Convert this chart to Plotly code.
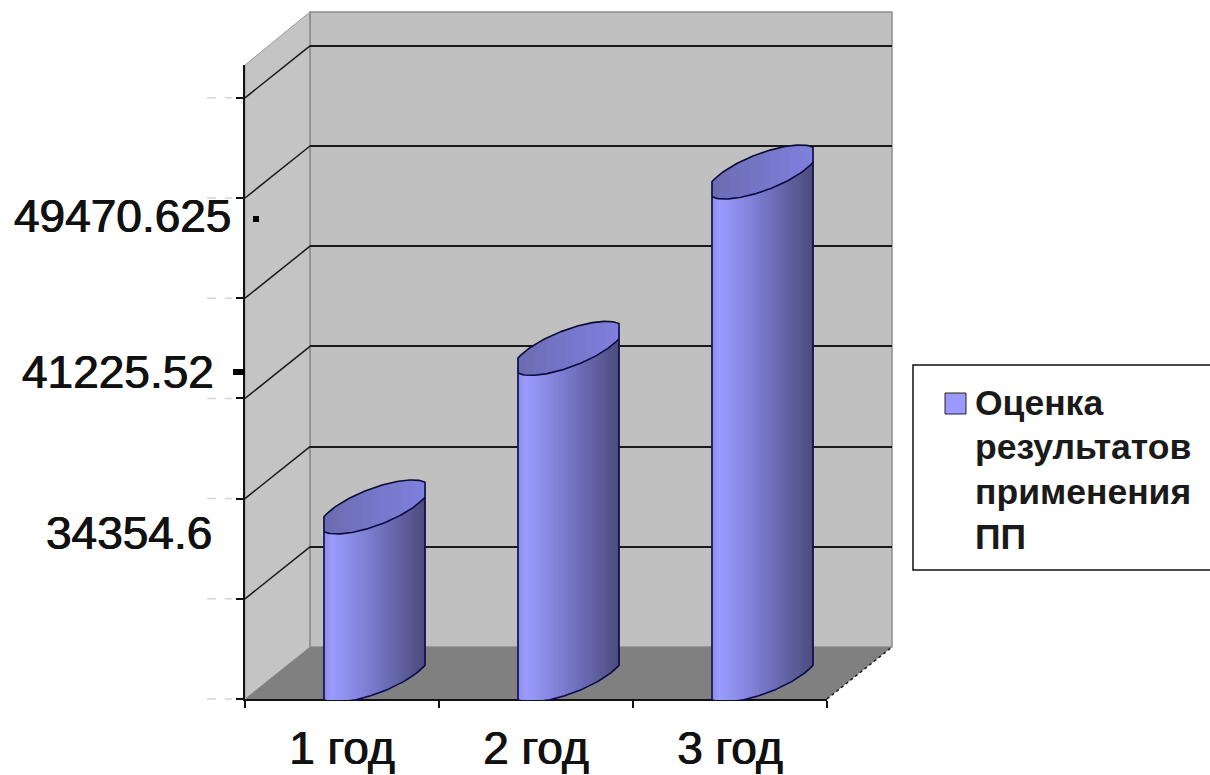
import numpy as np
import plotly.graph_objects as go

categories = ["1 год", "2 год", "3 год"]
bar_heights = [1.677, 3.26, 5.02]
value_labels = ["34354.6", "41225.52", "49470.625"]
label_positions = [1.66, 3.26, 4.82]
label_right_px = [214, 216, 233]
legend_lines = ["Оценка", "результатов", "применения", "ПП"]
legend_line_px = [403, 447, 492, 537]
axis_ticks = [0, 1, 2, 3, 4, 5, 6]

W, H = 1210, 775
PX_PER_UNIT = 100.2
CAT_PX = 194.0
FRONT = (245, 827, 65, 699)   # left, right, top, bottom
BACK = (310, 892, 12, 647)
MID_X = (277.5, 859.5)
MID_ZERO_PX = 675
MID_CLIP = (100, 700)
FONT = "Liberation Sans"
INK = "#111111"
HEAVY = "0.5px 0 0 #111111, -0.5px 0 0 #111111"


def X(p):
    return p / W


def Y(p):
    return 1 - p / H


def mix(stops, t):
    xs = [s[0] for s in stops]
    ch = [np.interp(t, xs, [s[1][i] for s in stops]) for i in range(3)]
    return "rgb(%d,%d,%d)" % tuple(int(round(c)) for c in ch)


BODY_STOPS = [(0, (140, 140, 235)), (0.08, (155, 155, 255)), (0.55, (116, 116, 195)), (1, (76, 76, 125))]
TOP_STOPS = [(0, (108, 108, 178)), (1, (128, 128, 222))]

half_w = 50.5 / CAT_PX
shear = 17.25 / PX_PER_UNIT
half_h = 19.5 / PX_PER_UNIT
squeeze = 0.923
n = 102
u = (np.arange(n) + 0.5) / n * 2 - 1
strip_w = 2 * half_w / n * 1.05
edge = np.linspace(-1, 1, 81)


def arc(v):
    return half_h * np.sqrt(1 - (v * squeeze) ** 2)


fig = go.Figure()

# hidden trace anchoring the front category axis
fig.add_trace(go.Scatter(x=categories, y=[0, 0, 0], xaxis="x", yaxis="y", mode="markers",
                         marker=dict(opacity=0), showlegend=False, hoverinfo="skip"))
# back-wall plane supplying the gridlines
fig.add_trace(go.Scatter(x=[0], y=[0], xaxis="x2", yaxis="y2", mode="markers",
                         marker=dict(opacity=0), showlegend=False, hoverinfo="skip"))

for i, h in enumerate(bar_heights):
    cx = i + u * half_w
    t = (u + 1) / 2
    low = shear * u - arc(u)
    body_top = h + shear * u
    fig.add_trace(go.Bar(x=cx, y=body_top - low, base=low, width=strip_w, xaxis="x3", yaxis="y3",
                         marker=dict(color=[mix(BODY_STOPS, v) for v in t], line=dict(width=0)),
                         showlegend=False, hoverinfo="skip"))
    top_low = h + shear * u - arc(u)
    top_high = h + shear * u + arc(u)
    fig.add_trace(go.Bar(x=cx, y=top_high - top_low, base=top_low, width=strip_w, xaxis="x3", yaxis="y3",
                         marker=dict(color=[mix(TOP_STOPS, v) for v in t], line=dict(width=0)),
                         showlegend=False, hoverinfo="skip"))
    # outline
    ex = i + edge * half_w
    outline_x = np.concatenate([ex, ex[::-1], [ex[0]]])
    outline_y = np.concatenate([h + shear * edge - arc(edge), (h + shear * edge + arc(edge))[::-1],
                                [h + shear * edge[0] - arc(edge[0])]])
    fig.add_trace(go.Scatter(x=outline_x, y=outline_y, xaxis="x3", yaxis="y3", mode="lines",
                             line=dict(color="#0A0A40", width=1.6), showlegend=False, hoverinfo="skip"))
    side_x = np.concatenate([[ex[0]], ex, [ex[-1]]])
    side_y = np.concatenate([[h - shear - arc(-1)], shear * edge - arc(edge), [h + shear - arc(1)]])
    fig.add_trace(go.Scatter(x=side_x, y=side_y, xaxis="x3", yaxis="y3", mode="lines",
                             line=dict(color="#0A0A40", width=1.6), showlegend=False, hoverinfo="skip"))

fl, fr, ft, fb = FRONT
bl, br, bt, bb = BACK
shapes = []


def poly(pts, fill, line=None, width=0):
    path = "M" + " L".join(f"{X(a):.5f},{Y(b):.5f}" for a, b in pts) + " Z"
    shapes.append(dict(type="path", xref="paper", yref="paper", path=path, fillcolor=fill, layer="below",
                       line=dict(color=line or fill, width=width)))


def seg(x0, y0, x1, y1, color, width, dash="solid", layer="below"):
    shapes.append(dict(type="line", xref="paper", yref="paper", x0=X(x0), y0=Y(y0), x1=X(x1), y1=Y(y1),
                       line=dict(color=color, width=width, dash=dash), layer=layer))


poly([(bl, bt), (br, bt), (br, bb), (bl, bb)], "#C0C0C0", "#8C8C8C", 1.5)
poly([(fl, ft), (bl, bt), (bl, bb), (fl, fb)], "#C4C4C4", "#9A9A9A", 1)
poly([(fl, fb), (fr, fb), (br, bb), (bl, bb)], "#808080")
seg(bl, bt, bl, bb, "#8C8C8C", 1.5)
seg(fr, fb, br, bb, "#1A1A1A", 1.5, "dot")

for v in axis_ticks[1:]:
    yf = fb - v * PX_PER_UNIT
    yb = bb - v * PX_PER_UNIT
    seg(fl, yf, bl, yb, "#1A1A1A", 1.5)
for v in axis_ticks:
    yf = fb - v * PX_PER_UNIT
    seg(207, yf, 232, yf, "#D4D4D4", 1.5, "dash")

# small hand-set marks beside the pasted labels
shapes.append(dict(type="rect", xref="paper", yref="paper", x0=X(253), x1=X(259), y0=Y(222), y1=Y(216),
                   fillcolor="#000000", line=dict(width=0)))
shapes.append(dict(type="rect", xref="paper", yref="paper", x0=X(233), x1=X(245), y0=Y(375), y1=Y(369),
                   fillcolor="#000000", line=dict(width=0)))
# legend box and swatch
shapes.append(dict(type="rect", xref="paper", yref="paper", x0=X(913), x1=X(1214), y0=Y(570), y1=Y(365),
                   fillcolor="#FFFFFF", line=dict(color="#111111", width=1.5)))
shapes.append(dict(type="rect", xref="paper", yref="paper", x0=X(945), x1=X(966), y0=Y(414), y1=Y(393),
                   fillcolor="#9999FF", line=dict(color="#222222", width=1)))

annotations = []
for text, pos, right in zip(value_labels, label_positions, label_right_px):
    annotations.append(dict(text=text, x=X(right), xref="paper", y=pos, yref="y", xanchor="right",
                            yanchor="middle", showarrow=False,
                            font=dict(family=FONT, size=46, color=INK, shadow=HEAVY)))
for text, line_px in zip(legend_lines, legend_line_px):
    annotations.append(dict(text=text, x=X(973), y=Y(line_px), xref="paper", yref="paper",
                            xanchor="left", yanchor="middle", align="left", showarrow=False,
                            font=dict(family=FONT, size=35.5, color="#1A1A1A", weight="bold")))

y_span = (fb - ft) / PX_PER_UNIT
fig.update_layout(
    width=W, height=H, margin=dict(l=0, r=0, t=0, b=0, pad=0, autoexpand=False), paper_bgcolor="#FFFFFF",
    plot_bgcolor="rgba(0,0,0,0)", barmode="overlay", showlegend=False, shapes=shapes, annotations=annotations,
    xaxis=dict(domain=[X(fl), X(fr)], type="category", categoryorder="array", categoryarray=categories,
               range=[-0.5, 2.5], tickson="boundaries", ticks="outside", ticklen=7, tickwidth=1.5, tickcolor="#111111",
               showline=True, linecolor="#111111", linewidth=1.5, showgrid=False, zeroline=False, automargin=False,
               ticklabelstandoff=8, tickfont=dict(family=FONT, size=46, color=INK, shadow=HEAVY)),
    yaxis=dict(domain=[Y(fb), Y(ft)], range=[0, y_span], tickvals=axis_ticks, showticklabels=False, ticks="outside",
               ticklen=7, tickwidth=1.5, tickcolor="#111111", showline=True, linecolor="#111111", linewidth=1.5,
               showgrid=False, zeroline=False, automargin=False),
    xaxis2=dict(domain=[X(bl), X(br)], range=[0, 1], anchor="y2", visible=False, showgrid=False, zeroline=False,
                automargin=False),
    yaxis2=dict(domain=[Y(bb), Y(bt)], range=[0, (bb - bt) / PX_PER_UNIT], anchor="x2", tickvals=axis_ticks,
                showticklabels=False, ticks="", showline=False, showgrid=True, gridcolor="#1A1A1A", gridwidth=2,
                zeroline=False, automargin=False),
    xaxis3=dict(domain=[X(MID_X[0]), X(MID_X[1])], range=[-0.5, 2.5], anchor="y3", visible=False, showgrid=False,
                zeroline=False, automargin=False),
    yaxis3=dict(domain=[Y(MID_CLIP[1]), Y(MID_CLIP[0])],
                range=[(MID_ZERO_PX - MID_CLIP[1]) / PX_PER_UNIT, (MID_ZERO_PX - MID_CLIP[0]) / PX_PER_UNIT],
                anchor="x3", visible=False, showgrid=False, zeroline=False, automargin=False),
)

fig.write_html("out.html", config=dict(displayModeBar=False),
               post_script="document.body.style.margin='0';document.body.style.overflow='hidden';")
